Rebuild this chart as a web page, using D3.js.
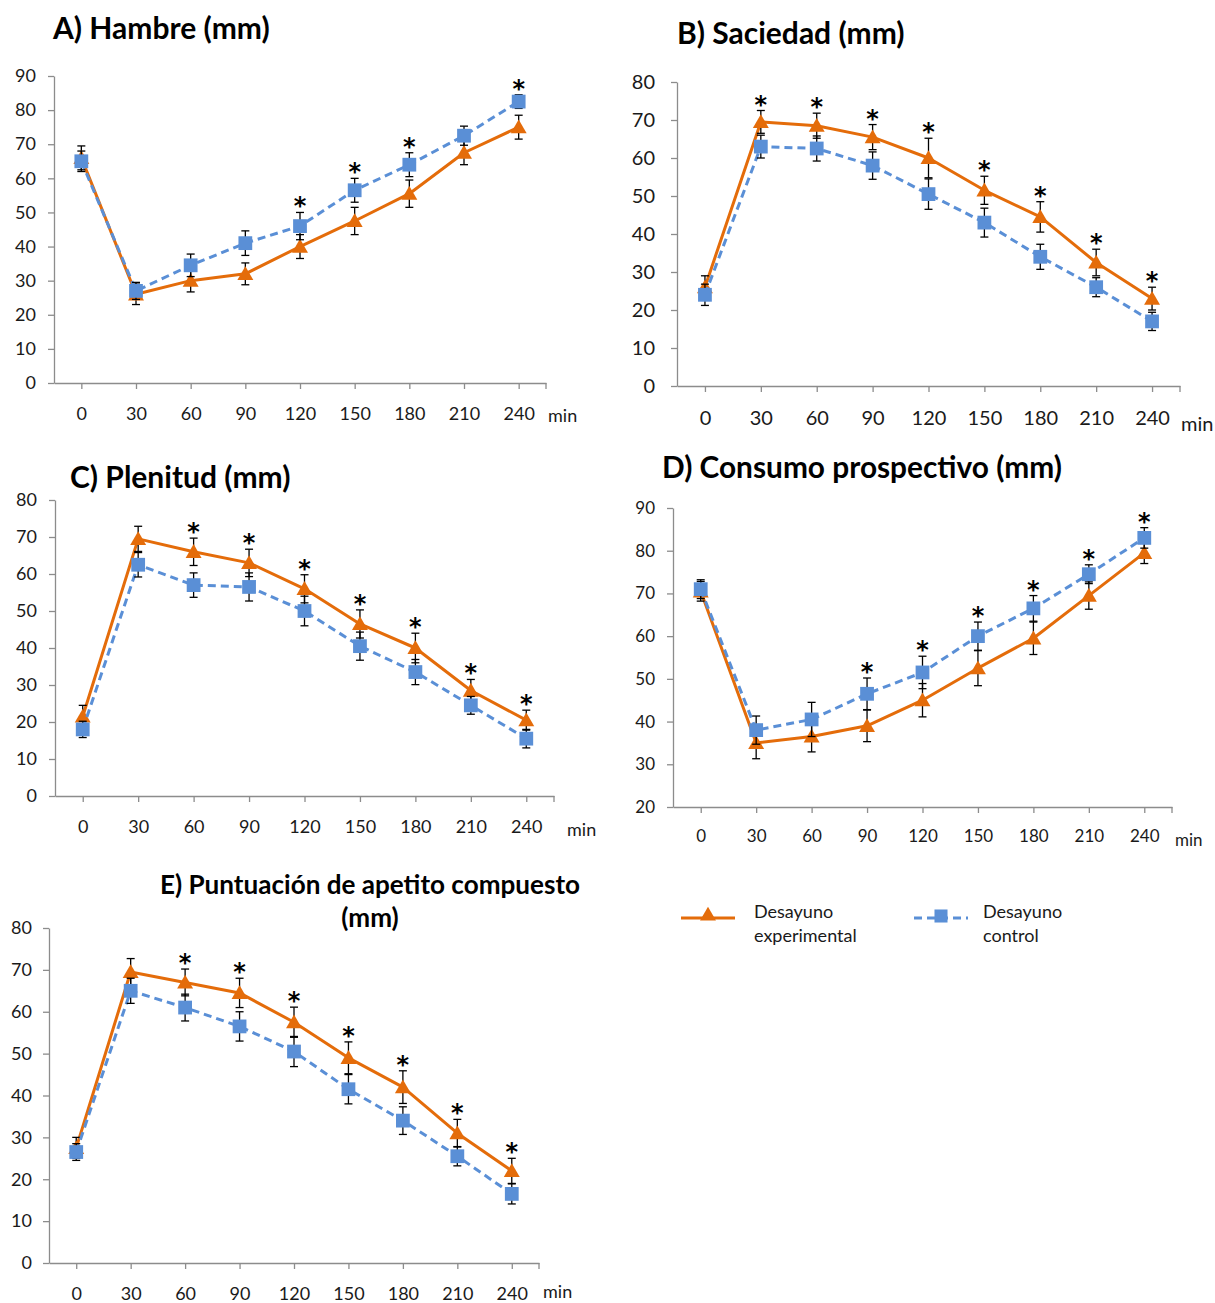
<!DOCTYPE html>
<html>
<head>
<meta charset="utf-8">
<script src="https://cdn.jsdelivr.net/npm/d3@7"></script>
<style>
  html, body { margin: 0; padding: 0; background: #ffffff; }
  svg { display: block; font-family: Lato, "Open Sans", sans-serif; }
</style>
</head>
<body>
<svg id="chart" width="1215" height="1303"></svg>
<script>
// ---------------- DATA ----------------
const timeLabels = ["0", "30", "60", "90", "120", "150", "180", "210", "240"];
const seriesNames = ["Desayuno experimental", "Desayuno control"];

// A) Hambre
const hambreExp     = [66, 26, 30, 32, 40, 47.5, 55.5, 67.5, 75];
const hambreExpSE   = [3.5, 3, 3.3, 3.2, 3.5, 4, 4, 3.5, 3.5];
const hambreCtrl    = [65, 27, 34.5, 41, 46, 56.5, 64, 72.5, 82.5];
const hambreCtrlSE  = [3, 2.5, 3.3, 3.6, 4, 3.5, 3.5, 2.8, 2];
const hambreSig     = [0, 0, 0, 0, 1, 1, 1, 0, 1];

// B) Saciedad
const saciedadExp    = [26, 69.5, 68.5, 65.5, 60, 51.5, 44.5, 32.5, 23];
const saciedadExpSE  = [3, 3, 3.3, 3.3, 5.2, 3.7, 4, 3.5, 3];
const saciedadCtrl   = [24, 63, 62.5, 58, 50.5, 43, 34, 26, 17];
const saciedadCtrlSE = [2.8, 3, 3.3, 3.6, 4, 3.8, 3.3, 2.5, 2.4];
const saciedadSig    = [0, 1, 1, 1, 1, 1, 1, 1, 1];

// C) Plenitud
const plenitudExp    = [21.5, 69.5, 66, 63, 56, 46.5, 40, 28.5, 20.5];
const plenitudExpSE  = [3, 3.4, 3.7, 3.7, 3.8, 3.8, 4, 3, 2.7];
const plenitudCtrl   = [18, 62.5, 57, 56.5, 50, 40.5, 33.5, 24.5, 15.5];
const plenitudCtrlSE = [2.2, 3.3, 3.3, 3.8, 4, 3.8, 3.4, 2.4, 2.5];
const plenitudSig    = [0, 0, 1, 1, 1, 1, 1, 1, 1];

// D) Consumo prospectivo
const consumoExp    = [70.5, 35, 36.5, 39, 45, 52.5, 59.5, 69.5, 79.5];
const consumoExpSE  = [2.3, 3.7, 3.6, 3.7, 3.9, 4.1, 3.8, 3.2, 2.5];
const consumoCtrl   = [71, 38, 40.5, 46.5, 51.5, 60, 66.5, 74.5, 83];
const consumoCtrlSE = [2.2, 3.3, 4, 3.7, 3.8, 3.3, 3, 2.2, 2.4];
const consumoSig    = [0, 0, 0, 1, 1, 1, 1, 1, 1];

// E) Puntuación de apetito compuesto
const apetitoExp    = [27.5, 69.5, 67, 64.5, 57.5, 49, 42, 31, 22];
const apetitoExpSE  = [2.5, 3.2, 3.2, 3.5, 3.6, 3.8, 3.9, 3.3, 3];
const apetitoCtrl   = [26.5, 65, 61, 56.5, 50.5, 41.5, 34, 25.5, 16.5];
const apetitoCtrlSE = [2, 3, 3.2, 3.5, 3.6, 3.5, 3.3, 2.3, 2.4];
const apetitoSig    = [0, 0, 1, 1, 1, 1, 1, 1, 1];

const panelTitles = [
  ["A) Hambre (mm)"],
  ["B) Saciedad (mm)"],
  ["C) Plenitud (mm)"],
  ["D) Consumo prospectivo (mm)"],
  ["E) Puntuación de apetito compuesto", "(mm)"]
];
const yDomains = [[0, 90], [0, 80], [0, 80], [20, 90], [0, 80]];
const xUnit = "min";

// ---------------- LAYOUT / STYLE ----------------
const ORANGE = "#E46C0A";
const BLUE = "#5A8FD6";
const AXIS = "#8c8c8c";
const TEXT = "#1a1a1a";

const layouts = [
  { x0: 54, x1: 546, yTop: 76, yBot: 383, fs: 18, title: { x: 53, w: 222, ys: [39] , anchor: "start"}, minX: 548, minY: 422, labGap: 18 },
  { x0: 677, x1: 1180, yTop: 82, yBot: 386, fs: 20, title: { x: 677, w: 230, ys: [44], anchor: "start" }, minX: 1181, minY: 431, labGap: 22 },
  { x0: 55, x1: 554, yTop: 500, yBot: 796, fs: 18, title: { x: 70, w: 222, ys: [488], anchor: "start" }, minX: 567, minY: 836, labGap: 18 },
  { x0: 673, x1: 1172, yTop: 508, yBot: 807, fs: 17, title: { x: 662, w: 400, ys: [478], anchor: "start" }, minX: 1175, minY: 846, labGap: 18 },
  { x0: 49, x1: 539, yTop: 928, yBot: 1263, fs: 18, title: { x: 370, w: 420, ys: [894, 927], anchor: "middle" }, minX: 543, minY: 1298, labGap: 17 }
];

const panels = [
  { exp: hambreExp, expSE: hambreExpSE, ctrl: hambreCtrl, ctrlSE: hambreCtrlSE, sig: hambreSig },
  { exp: saciedadExp, expSE: saciedadExpSE, ctrl: saciedadCtrl, ctrlSE: saciedadCtrlSE, sig: saciedadSig },
  { exp: plenitudExp, expSE: plenitudExpSE, ctrl: plenitudCtrl, ctrlSE: plenitudCtrlSE, sig: plenitudSig },
  { exp: consumoExp, expSE: consumoExpSE, ctrl: consumoCtrl, ctrlSE: consumoCtrlSE, sig: consumoSig },
  { exp: apetitoExp, expSE: apetitoExpSE, ctrl: apetitoCtrl, ctrlSE: apetitoCtrlSE, sig: apetitoSig }
];

const svg = d3.select("#chart");

panels.forEach((p, i) => {
  const L = layouts[i];
  const g = svg.append("g");
  const x = d3.scalePoint().domain(timeLabels).range([L.x0, L.x1]).padding(0.5);
  const y = d3.scaleLinear().domain(yDomains[i]).range([L.yBot, L.yTop]);

  // title
  const tg = g.append("g");
  panelTitles[i].forEach((line, k) => {
    tg.append("text")
      .attr("x", L.title.x).attr("y", L.title.ys[k])
      .attr("text-anchor", L.title.anchor)
      .attr("font-weight", 700).attr("font-size", 26)
      .attr("fill", "#000").text(line);
  });
  const first = tg.select("text").node();
  const w0 = first.getComputedTextLength();
  const fsT = Math.max(20, Math.min(30, 26 * L.title.w / w0));
  tg.selectAll("text").attr("font-size", fsT);

  // y axis
  const yAxis = d3.axisLeft(y).ticks((yDomains[i][1] - yDomains[i][0]) / 10)
    .tickSizeInner(6).tickSizeOuter(0).tickPadding(L.labGap - 6);
  const ya = g.append("g").attr("transform", `translate(${L.x0},0)`).call(yAxis);
  ya.select(".domain").attr("stroke", AXIS).attr("stroke-width", 1.3);
  ya.selectAll(".tick line").attr("stroke", AXIS).attr("stroke-width", 1.3);
  ya.selectAll(".tick text").attr("font-size", L.fs).attr("fill", TEXT)
    .attr("font-family", "Lato, 'Open Sans', sans-serif");

  // x axis
  const xAxis = d3.axisBottom(x).tickSizeInner(6).tickSizeOuter(0).tickPadding(L.fs * 0.6 + 7);
  const xa = g.append("g").attr("transform", `translate(0,${L.yBot})`).call(xAxis);
  xa.select(".domain").attr("stroke", AXIS).attr("stroke-width", 1.3);
  xa.selectAll(".tick line").attr("stroke", AXIS).attr("stroke-width", 1.3);
  xa.selectAll(".tick text").attr("font-size", L.fs).attr("fill", TEXT)
    .attr("font-family", "Lato, 'Open Sans', sans-serif");
  xa.append("line").attr("x1", L.x1).attr("x2", L.x1).attr("y1", 0).attr("y2", 6)
    .attr("stroke", AXIS).attr("stroke-width", 1.3);

  g.append("text").attr("x", L.minX).attr("y", L.minY)
    .attr("font-size", L.fs).attr("fill", TEXT).text(xUnit);

  const series = [
    { vals: p.exp, se: p.expSE, color: ORANGE, dash: null, symbol: d3.symbolTriangle, size: 110 },
    { vals: p.ctrl, se: p.ctrlSE, color: BLUE, dash: "8,5", symbol: d3.symbolSquare, size: 190 }
  ];

  series.forEach(s => {
    const pts = timeLabels.map((t, j) => ({ t, v: s.vals[j], e: s.se[j] }));
    const line = d3.line().x(d => x(d.t)).y(d => y(d.v));
    g.append("path").datum(pts).attr("d", line)
      .attr("fill", "none").attr("stroke", s.color).attr("stroke-width", 3)
      .attr("stroke-dasharray", s.dash).attr("stroke-linejoin", "round");
    const eb = g.append("g").attr("stroke", "#000").attr("stroke-width", 1.3);
    pts.forEach(d => {
      const cx = x(d.t);
      eb.append("line").attr("x1", cx).attr("x2", cx).attr("y1", y(d.v - d.e)).attr("y2", y(d.v + d.e));
      eb.append("line").attr("x1", cx - 4).attr("x2", cx + 4).attr("y1", y(d.v + d.e)).attr("y2", y(d.v + d.e));
      eb.append("line").attr("x1", cx - 4).attr("x2", cx + 4).attr("y1", y(d.v - d.e)).attr("y2", y(d.v - d.e));
    });
    g.append("g").selectAll("path").data(pts).join("path")
      .attr("transform", d => `translate(${x(d.t)},${y(d.v) + (s.symbol === d3.symbolTriangle ? 1.5 : 0)})`)
      .attr("d", d3.symbol().type(s.symbol).size(s.size))
      .attr("fill", s.color);
  });

  // significance asterisks
  timeLabels.forEach((t, j) => {
    if (!p.sig[j]) return;
    const top = Math.max(p.exp[j] + p.expSE[j], p.ctrl[j] + p.ctrlSE[j]);
    g.append("text").attr("x", x(t)).attr("y", y(top) + 2)
      .attr("text-anchor", "middle").attr("font-weight", 700)
      .attr("font-family", "'DejaVu Sans', sans-serif")
      .attr("font-size", 24).attr("fill", "#000").text("*");
  });
});

// ---------------- LEGEND ----------------
const legend = svg.append("g");
const legItems = [
  { name: seriesNames[0], color: ORANGE, dash: null, symbol: d3.symbolTriangle, size: 110, lx: 681, tx: 754 },
  { name: seriesNames[1], color: BLUE, dash: "8,5", symbol: d3.symbolSquare, size: 170, lx: 914, tx: 983 }
];
legItems.forEach(it => {
  legend.append("line").attr("x1", it.lx).attr("x2", it.lx + 54).attr("y1", 918).attr("y2", 918)
    .attr("stroke", it.color).attr("stroke-width", 3).attr("stroke-dasharray", it.dash);
  legend.append("path").attr("transform", `translate(${it.lx + 27},${916})`)
    .attr("d", d3.symbol().type(it.symbol).size(it.size)).attr("fill", it.color);
  const words = it.name.split(" ");
  legend.append("text").attr("x", it.tx).attr("y", 918).attr("font-size", 18).attr("fill", TEXT).text(words[0]);
  legend.append("text").attr("x", it.tx).attr("y", 942).attr("font-size", 18).attr("fill", TEXT).text(words.slice(1).join(" "));
});
</script>
</body>
</html>
